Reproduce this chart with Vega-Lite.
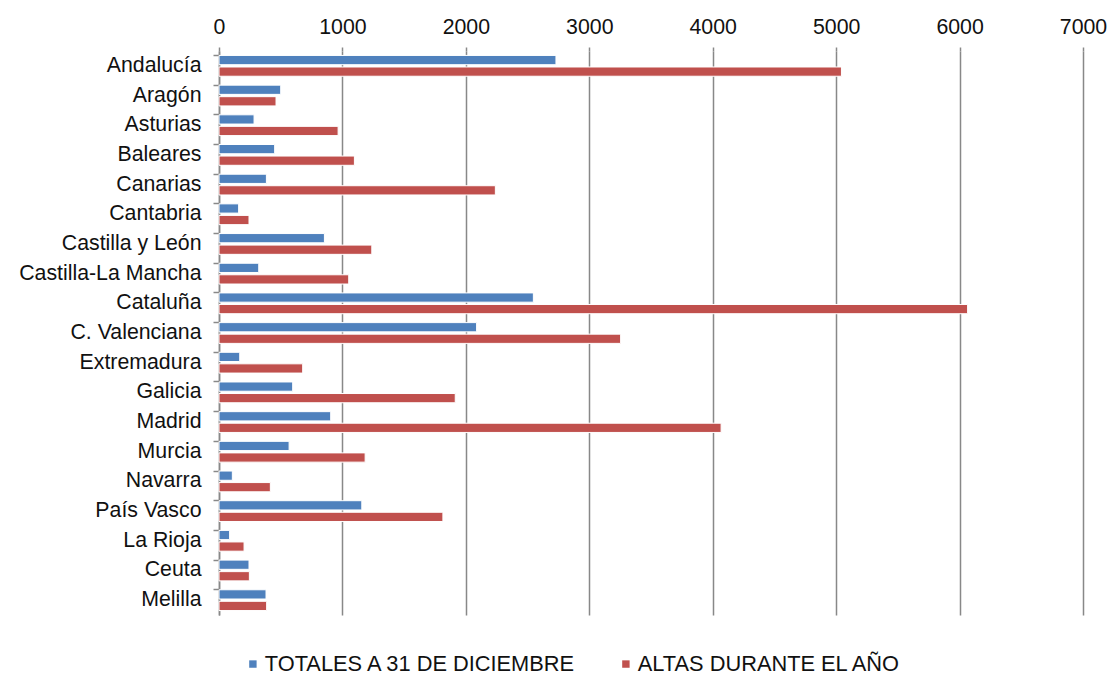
{
  "$schema": "https://vega.github.io/schema/vega-lite/v6.json",
  "autosize": {"type": "none"},
  "padding": {"left": 219, "top": 51, "right": 25, "bottom": 60},
  "width": 864,
  "height": 564,
  "background": "white",
  "config": {
    "view": {"stroke": null},
    "font": "Liberation Sans"
  },
  "data": {
    "values": [
      {"region": "Andalucía", "serie": "TOTALES A 31 DE DICIEMBRE", "valor": 2730},
      {"region": "Andalucía", "serie": "ALTAS DURANTE EL AÑO", "valor": 5043},
      {"region": "Aragón", "serie": "TOTALES A 31 DE DICIEMBRE", "valor": 500},
      {"region": "Aragón", "serie": "ALTAS DURANTE EL AÑO", "valor": 462},
      {"region": "Asturias", "serie": "TOTALES A 31 DE DICIEMBRE", "valor": 284},
      {"region": "Asturias", "serie": "ALTAS DURANTE EL AÑO", "valor": 965},
      {"region": "Baleares", "serie": "TOTALES A 31 DE DICIEMBRE", "valor": 451},
      {"region": "Baleares", "serie": "ALTAS DURANTE EL AÑO", "valor": 1097},
      {"region": "Canarias", "serie": "TOTALES A 31 DE DICIEMBRE", "valor": 384},
      {"region": "Canarias", "serie": "ALTAS DURANTE EL AÑO", "valor": 2239},
      {"region": "Cantabria", "serie": "TOTALES A 31 DE DICIEMBRE", "valor": 159},
      {"region": "Cantabria", "serie": "ALTAS DURANTE EL AÑO", "valor": 243},
      {"region": "Castilla y León", "serie": "TOTALES A 31 DE DICIEMBRE", "valor": 854},
      {"region": "Castilla y León", "serie": "ALTAS DURANTE EL AÑO", "valor": 1238},
      {"region": "Castilla-La Mancha", "serie": "TOTALES A 31 DE DICIEMBRE", "valor": 322},
      {"region": "Castilla-La Mancha", "serie": "ALTAS DURANTE EL AÑO", "valor": 1051},
      {"region": "Cataluña", "serie": "TOTALES A 31 DE DICIEMBRE", "valor": 2547},
      {"region": "Cataluña", "serie": "ALTAS DURANTE EL AÑO", "valor": 6065},
      {"region": "C. Valenciana", "serie": "TOTALES A 31 DE DICIEMBRE", "valor": 2087},
      {"region": "C. Valenciana", "serie": "ALTAS DURANTE EL AÑO", "valor": 3254},
      {"region": "Extremadura", "serie": "TOTALES A 31 DE DICIEMBRE", "valor": 168},
      {"region": "Extremadura", "serie": "ALTAS DURANTE EL AÑO", "valor": 678},
      {"region": "Galicia", "serie": "TOTALES A 31 DE DICIEMBRE", "valor": 597},
      {"region": "Galicia", "serie": "ALTAS DURANTE EL AÑO", "valor": 1914},
      {"region": "Madrid", "serie": "TOTALES A 31 DE DICIEMBRE", "valor": 905},
      {"region": "Madrid", "serie": "ALTAS DURANTE EL AÑO", "valor": 4068},
      {"region": "Murcia", "serie": "TOTALES A 31 DE DICIEMBRE", "valor": 568},
      {"region": "Murcia", "serie": "ALTAS DURANTE EL AÑO", "valor": 1184},
      {"region": "Navarra", "serie": "TOTALES A 31 DE DICIEMBRE", "valor": 108},
      {"region": "Navarra", "serie": "ALTAS DURANTE EL AÑO", "valor": 416},
      {"region": "País Vasco", "serie": "TOTALES A 31 DE DICIEMBRE", "valor": 1157},
      {"region": "País Vasco", "serie": "ALTAS DURANTE EL AÑO", "valor": 1814},
      {"region": "La Rioja", "serie": "TOTALES A 31 DE DICIEMBRE", "valor": 86},
      {"region": "La Rioja", "serie": "ALTAS DURANTE EL AÑO", "valor": 203},
      {"region": "Ceuta", "serie": "TOTALES A 31 DE DICIEMBRE", "valor": 243},
      {"region": "Ceuta", "serie": "ALTAS DURANTE EL AÑO", "valor": 246},
      {"region": "Melilla", "serie": "TOTALES A 31 DE DICIEMBRE", "valor": 381},
      {"region": "Melilla", "serie": "ALTAS DURANTE EL AÑO", "valor": 386}
    ]
  },
  "mark": {"type": "bar", "stroke": "white", "strokeWidth": 1},
  "encoding": {
    "y": {
      "field": "region",
      "type": "nominal",
      "sort": null,
      "title": null,
      "scale": {"paddingInner": 0.3, "paddingOuter": 0.15},
      "axis": {
        "bandPosition": 0,
        "domainColor": "#888888",
        "domainWidth": 1.5,
        "tickColor": "#888888",
        "tickWidth": 1.5,
        "tickSize": 6,
        "labelPadding": 12,
        "labelFontSize": 21.3,
        "labelLimit": 300,
        "labelColor": "#111111",
        "labelFont": "Liberation Sans",
        "grid": false
      }
    },
    "yOffset": {
      "field": "serie",
      "type": "nominal",
      "sort": ["TOTALES A 31 DE DICIEMBRE", "ALTAS DURANTE EL AÑO"],
      "scale": {"paddingInner": 0.2}
    },
    "x": {
      "field": "valor",
      "type": "quantitative",
      "title": null,
      "scale": {"domain": [0, 7000], "nice": false},
      "axis": {
        "orient": "top",
        "values": [0, 1000, 2000, 3000, 4000, 5000, 6000, 7000],
        "format": "d",
        "domain": false,
        "labelFlush": false,
        "grid": true,
        "gridColor": "#888888",
        "gridWidth": 1.5,
        "tickColor": "#888888",
        "tickWidth": 1.5,
        "tickSize": 4,
        "labelPadding": 10,
        "labelFontSize": 21.3,
        "labelColor": "#111111",
        "labelFont": "Liberation Sans"
      }
    },
    "color": {
      "field": "serie",
      "type": "nominal",
      "sort": ["TOTALES A 31 DE DICIEMBRE", "ALTAS DURANTE EL AÑO"],
      "scale": {
        "domain": ["TOTALES A 31 DE DICIEMBRE", "ALTAS DURANTE EL AÑO"],
        "range": ["#4F81BD", "#C0504D"]
      },
      "legend": {
        "title": null,
        "orient": "none",
        "legendX": 23,
        "legendY": 602,
        "direction": "horizontal",
        "symbolType": "square",
        "symbolSize": 55,
        "symbolStrokeWidth": 0,
        "labelFontSize": 21.8,
        "labelFont": "Liberation Sans",
        "labelColor": "#111111",
        "columnPadding": 38,
        "labelOffset": 1,
        "labelLimit": 400
      }
    }
  }
}
